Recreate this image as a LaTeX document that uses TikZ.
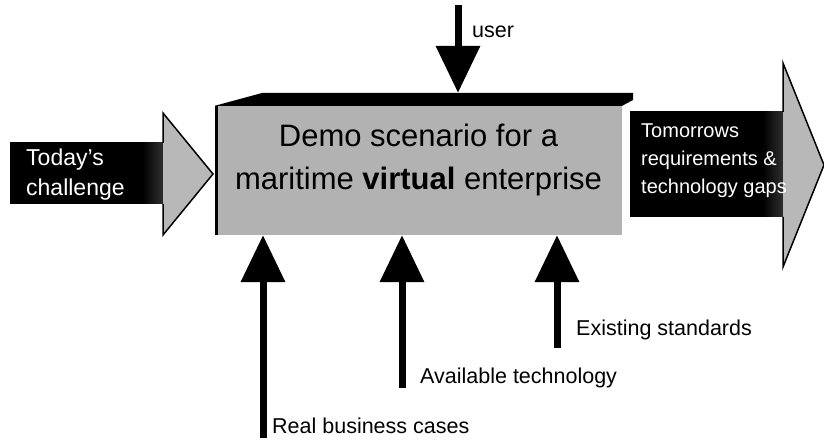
\documentclass[tikz,border=0pt]{standalone}
\usepackage{fontspec}
\setmainfont{Liberation Sans}
\usetikzlibrary{arrows.meta,calc}
\pgfdeclarehorizontalshading{bodyshade}{100bp}{color(0bp)=(black); color(68bp)=(black); color(88bp)=(black!45); color(100bp)=(black!30)}
\tikzset{
  feedarrow/.style={line width=7pt, -{Triangle[width=43pt,length=47pt]}},
  lab/.style={font=\fontsize{21.5}{24}\selectfont, inner sep=0pt, anchor=base west},
  bigarrow/.style={shading=bodyshade},
  headline/.style={fill=black!28, draw=black, line width=1.5pt, line join=miter},
  facefill/.style={fill=black!30}
}
\begin{document}
\begin{tikzpicture}[x=1pt,y=-1pt]
\useasboundingbox (0,0) rectangle (824,443);
% left arrow
\path[bigarrow] (10,143) rectangle (164,204);
\draw[headline] (163,143) -- (163,113) -- (213,174) -- (163,235) -- (163,204);
\node[font=\fontsize{23}{30}\selectfont, text=white, align=left, inner sep=0pt, anchor=west] (today) at (26,174.3) {Today's\\challenge};
% right arrow
\path[bigarrow] (630,112) rectangle (784,217);
\draw[headline] (783,112) -- (783,63) -- (824,165) -- (783,267) -- (783,217);
\node[font=\fontsize{20}{28}\selectfont, text=white, align=left, inner sep=0pt, anchor=west] (tomorrow) at (641,161) {Tomorrows\\requirements \&\\technology gaps};
% box
\node[facefill, minimum width=407pt, minimum height=129pt, inner sep=0pt] (box) at (418.5,170.5) {};
\fill (box.north west) -- (262,93) -- (633,93) -- (633,100) -- (box.north east) -- cycle;
\draw[line width=3pt] ([xshift=1.5pt]box.north west) -- ([xshift=1.5pt]box.south west);
\node[font=\fontsize{31}{43}\selectfont, align=center, inner sep=0pt] (title) at (418.5,160.4) {Demo scenario for a\\maritime \textbf{virtual} enterprise};
% user
\coordinate (usertop) at (458,5);
\draw[feedarrow] (usertop) -- ($(usertop |- box.north)+(0,-13)$);
\node[lab] (userlab) at (472,38) {user};
% inputs
\coordinate (realbot) at (263,438);
\coordinate (availbot) at (402,388);
\coordinate (existbot) at (557,348);
\draw[feedarrow] (realbot) -- (realbot |- box.south);
\draw[feedarrow] (availbot) -- (availbot |- box.south);
\draw[feedarrow] (existbot) -- (existbot |- box.south);
\node[lab] (reallab) at (272,433) {Real business cases};
\node[lab] (availlab) at (420,383) {Available technology};
\node[lab] (existlab) at (576,335) {Existing standards};
\end{tikzpicture}
\end{document}
